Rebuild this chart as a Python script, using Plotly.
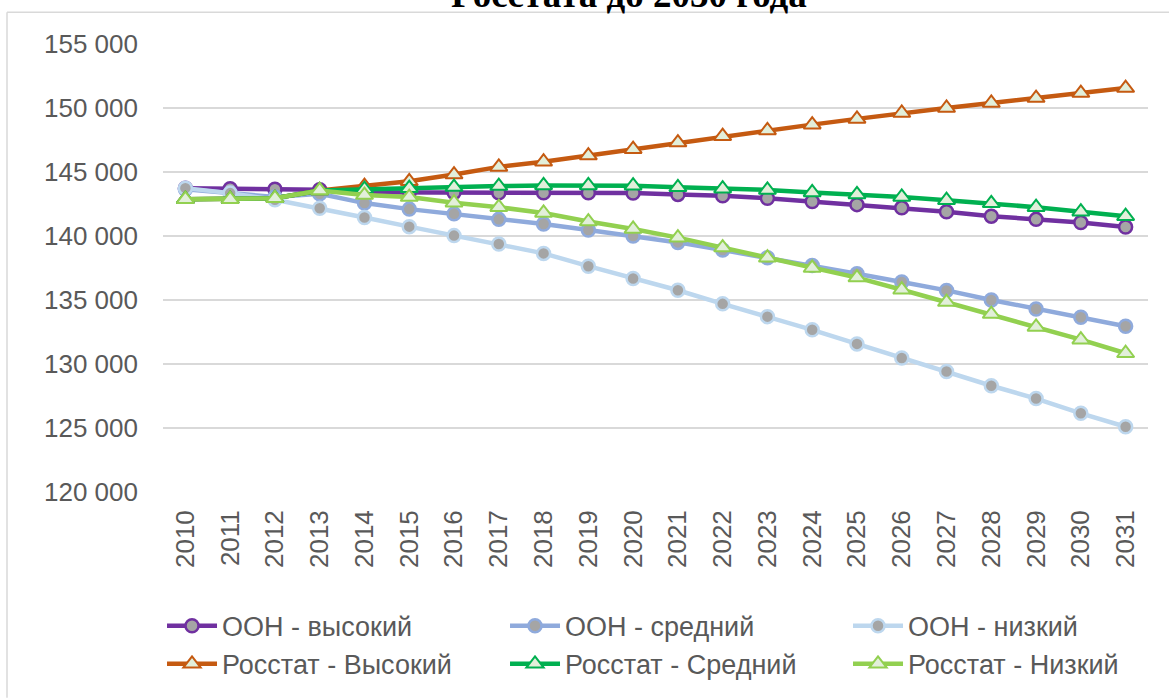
import plotly.graph_objects as go

years = [str(y) for y in range(2010, 2032)]

un_high = [143.74, 143.70, 143.65, 143.62, 143.42, 143.40, 143.40, 143.38, 143.38, 143.38, 143.35,
           143.25, 143.15, 142.95, 142.70, 142.45, 142.20, 141.90, 141.55, 141.30, 141.05, 140.70]
un_mid = [143.65, 143.35, 143.05, 143.30, 142.57, 142.10, 141.73, 141.30, 140.94, 140.47, 140.00,
          139.50, 138.90, 138.30, 137.70, 137.05, 136.40, 135.75, 135.00, 134.30, 133.65, 132.95]
un_low = [143.74, 143.35, 142.83, 142.17, 141.44, 140.73, 140.03, 139.37, 138.64, 137.64, 136.68,
          135.76, 134.70, 133.70, 132.67, 131.57, 130.47, 129.42, 128.30, 127.30, 126.15, 125.10]
rs_high = [142.88, 142.88, 142.95, 143.56, 143.90, 144.27, 144.80, 145.40, 145.80, 146.28, 146.78,
           147.30, 147.80, 148.25, 148.70, 149.15, 149.61, 150.00, 150.39, 150.78, 151.17, 151.56]
rs_mid = [142.88, 142.88, 142.95, 143.56, 143.66, 143.74, 143.82, 143.90, 143.95, 143.95, 143.93,
          143.80, 143.70, 143.60, 143.40, 143.25, 143.05, 142.80, 142.55, 142.25, 141.90, 141.55]
rs_low = [142.88, 142.88, 142.95, 143.56, 143.20, 143.04, 142.60, 142.25, 141.80, 141.13, 140.55,
          139.87, 139.10, 138.30, 137.50, 136.75, 135.80, 134.84, 133.90, 132.90, 131.90, 130.84]

names = ["ООН - высокий", "ООН - средний", "ООН - низкий",
         "Росстат - Высокий", "Росстат - Средний", "Росстат - Низкий"]
series = [un_high, un_mid, un_low, rs_high, rs_mid, rs_low]
colors = ["#7030A0", "#8FAADC", "#BDD7EE", "#C55A11", "#00B050", "#92D050"]
symbols = ["circle", "circle", "circle", "triangle-up", "triangle-up", "triangle-up"]

fig = go.Figure()
for name, vals, col, sym in zip(names, series, colors, symbols):
    is_circle = sym == "circle"
    fig.add_trace(go.Scatter(
        x=years, y=[v * 1000 for v in vals], name=name, mode="lines+markers",
        line=dict(color=col, width=4.5),
        marker=dict(symbol=sym, size=13 if is_circle else 15,
                    color="#A5A5A5" if is_circle else "#E2EFDA",
                    line=dict(color=col, width=2.5 if is_circle else 2)),
    ))

L, T, W, H = 163, 44.3, 985, 448
def px_x(x):
    return (x - L) / W
def px_y(y):
    return (T + H - y) / H

fig.update_layout(
    width=1169, height=698,
    margin=dict(l=L, r=1169 - L - W, t=T, b=698 - T - H, autoexpand=False),
    paper_bgcolor="white", plot_bgcolor="white",
    font=dict(family="Liberation Sans, Arial, sans-serif", color="#595959", size=26),
    separators=", ",
    showlegend=True,
    legend=dict(orientation="h", x=-0.001, xanchor="left", y=px_y(602), yanchor="top",
                font=dict(size=27, color="#595959"), itemwidth=50,
                entrywidth=278, entrywidthmode="pixels", bgcolor="rgba(0,0,0,0)"),
    xaxis=dict(type="category", range=[-0.5, 21.5], tickangle=-90, showgrid=False,
               zeroline=False, showline=False, ticks="", ticklabelstandoff=12,
               tickfont=dict(size=26, color="#595959")),
    yaxis=dict(range=[120000, 155000], dtick=5000, tickformat=",d", showgrid=True,
               gridcolor="#D9D9D9", gridwidth=1.5, zeroline=False, showline=False,
               ticks="", ticklabelstandoff=24, tickfont=dict(size=26, color="#595959")),
    annotations=[dict(text="<b>Росстата до 2030 года</b>", xref="paper", yref="paper",
                      x=px_x(629), y=px_y(17), xanchor="center", yanchor="bottom",
                      showarrow=False,
                      font=dict(family="Liberation Serif, Times New Roman, serif",
                                size=37, color="black"))],
    shapes=[
        dict(type="line", xref="paper", yref="paper", x0=px_x(7), x1=px_x(1169),
             y0=px_y(12.5), y1=px_y(12.5), line=dict(color="#D9D9D9", width=1.5)),
        dict(type="line", xref="paper", yref="paper", x0=px_x(7), x1=px_x(7),
             y0=px_y(12.5), y1=px_y(698), line=dict(color="#D9D9D9", width=1.5)),
    ],
)

fig.write_html("out.html", config={"displayModeBar": False},
               post_script="document.body.style.margin='0';document.body.style.overflow='hidden';")
